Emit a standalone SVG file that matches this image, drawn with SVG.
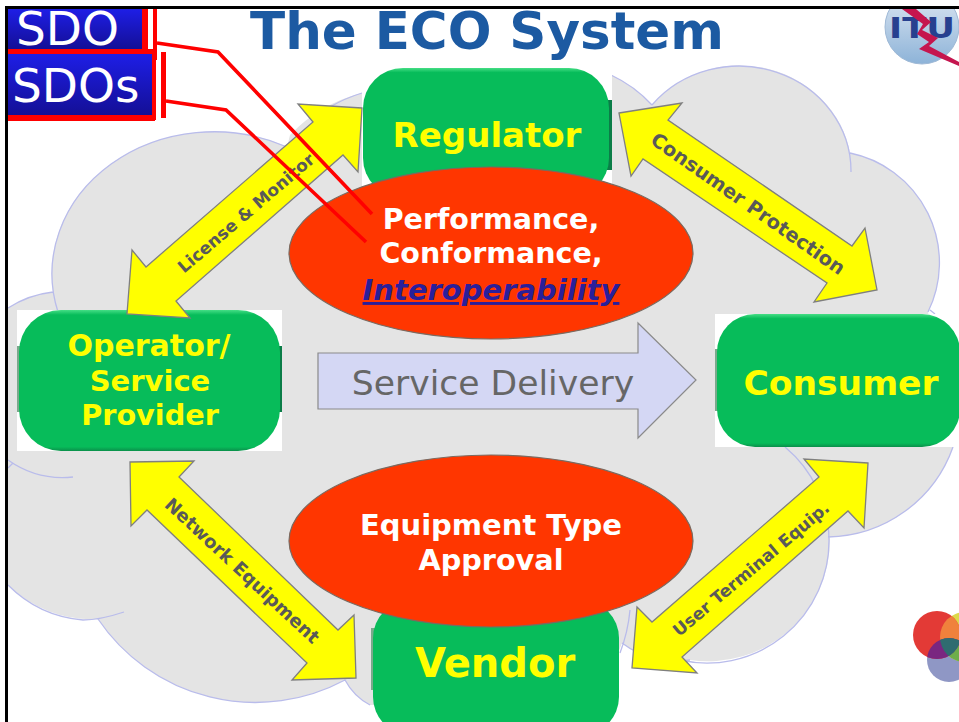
<svg xmlns="http://www.w3.org/2000/svg" width="959" height="722" viewBox="0 0 959 722">
<style>
text{font-family:"DejaVu Sans",Verdana,sans-serif}
.b{font-weight:700}
.m{text-anchor:middle}
.y{fill:#ffff00;font-weight:700;text-anchor:middle}
.w{fill:#fff;font-weight:700;text-anchor:middle}
.lab{fill:#595959;font-weight:700;text-anchor:middle}
.arrow{fill:#ffff00;stroke:#7f7f7f;stroke-width:1.3;stroke-linejoin:miter}
.ell{fill:#ff3600;stroke:#7a6a60;stroke-width:1.2}
.node{fill:url(#g)}
.edge{fill:#0b7d48}
.edgel{fill:#7aa98c}
.red{fill:#ff0000}
.redl{fill:none;stroke:#ff0000;stroke-width:3.6}
.sdo{fill:url(#bb)}
.sdot{fill:#fff;font-size:47px}
</style>
<defs>
<linearGradient id="g" x1="0" y1="0" x2="0" y2="1">
<stop offset="0" stop-color="#45de85"/><stop offset=".035" stop-color="#07bc5a"/><stop offset=".97" stop-color="#07bc5a"/><stop offset="1" stop-color="#0a8f4a"/>
</linearGradient>
<linearGradient id="bb" x1="0" y1="0" x2="0" y2="1">
<stop offset="0" stop-color="#1e1ee6"/><stop offset="1" stop-color="#140f96"/>
</linearGradient>
<linearGradient id="globe" x1="0" y1="0" x2="0" y2="1">
<stop offset="0" stop-color="#dfe8f3"/><stop offset="1" stop-color="#8db3d8"/>
</linearGradient>
<clipPath id="cr"><circle cx="937" cy="635" r="24"/></clipPath>
<clipPath id="cy"><circle cx="965" cy="637" r="25"/></clipPath>
<clipPath id="cb"><circle cx="949" cy="660" r="22"/></clipPath>
<clipPath id="top"><rect x="8" y="9" width="951" height="713"/></clipPath>
</defs>
<rect width="959" height="722" fill="#fff"/>
<g id="cloud">
<path fill="#e4e4e4" d="M8,308 A105,105 0 0 1 53,292 A162,142 0 0 1 287,147 L290,135 A150,150 0 0 1 362,93 L611,75 A130,130 0 0 1 652,105 A112,105 0 0 1 850,153 A112,112 0 0 1 928,312 L953,447 A135,135 0 0 1 830,537 A122,122 0 0 1 690,660 A90,90 0 0 1 622,643 L600,700 L370,705 A60,60 0 0 1 345,680 A190,190 0 0 1 98,619 A120,120 0 0 1 8,585 Z"/>
<path fill="none" stroke="#b9bceb" stroke-width="1.3" d="M8,308 A105,105 0 0 1 53,292 M58,312 A162,142 0 0 1 287,147 M330,107 A150,150 0 0 1 362,93 M611,75 A130,130 0 0 1 652,105 M652,105 A112,105 0 0 1 851,172 M850,153 A112,112 0 0 1 928,312 M930,310 L935,314 M953,447 A135,135 0 0 1 828,537 M785,447 A122,122 0 0 1 829,540 A122,122 0 0 1 680,660 M630,610 Q628,632 620,653 M690,660 A90,90 0 0 1 622,643 M370,705 A60,60 0 0 1 345,680 A190,190 0 0 1 98,619 M124,612 Q100,620 83,620 A120,120 0 0 1 8,585 M8,460 A95,95 0 0 0 73,477 M8,468 L13,463"/>
</g>
<g id="title"><text class="b" x="250" y="49" font-size="51.5" fill="#1c5aa2">The ECO System</text></g>
<g id="itu-logo" clip-path="url(#top)">
<circle cx="922" cy="27" r="37" fill="url(#globe)" stroke="#9fb9d6" stroke-width="1"/>
<text class="b" x="889" y="38" font-size="27.5" fill="#27408f" textLength="66" lengthAdjust="spacingAndGlyphs">ITU</text>
<polygon points="902,9 916,9 931,22 922,30 938,38 929,46 959,62 959,66 919,49 929,42 917,34 923,24" fill="#c5154e"/>
</g>
<g id="regulator">
<rect x="362" y="66" width="250" height="130" fill="#fff"/>
<rect x="600" y="100" width="12" height="70" class="edge"/>
<rect x="363" y="68" width="246" height="130" rx="40" class="node"/>
<text class="y" x="487" y="147" font-size="34">Regulator</text>
</g>
<g id="operator">
<rect x="17" y="310" width="265" height="141" fill="#fff"/>
<rect x="17" y="346" width="10" height="66" class="edgel"/>
<rect x="270" y="346" width="12" height="66" class="edge"/>
<rect x="19" y="310" width="261" height="141" rx="42" class="node"/>
<text class="y" x="149" y="356" font-size="30">Operator/</text>
<text class="y" x="150" y="391" font-size="29">Service</text>
<text class="y" x="150" y="425" font-size="28.7">Provider</text>
</g>
<g id="consumer">
<rect x="715" y="314" width="244" height="133" fill="#fff"/>
<rect x="715" y="349" width="10" height="62" class="edgel"/>
<rect x="717" y="314" width="243" height="133" rx="38" class="node"/>
<text class="y" x="841" y="395" font-size="34.5">Consumer</text>
</g>
<g id="vendor">
<rect x="371" y="628" width="10" height="62" class="edgel"/>
<rect x="373" y="600" width="246" height="135" rx="38" class="node"/>
<text class="y" x="495" y="677" font-size="40">Vendor</text>
</g>
<g id="service-delivery">
<polygon points="318,353 638,353 638,323 696,380 638,438 638,409 318,409" fill="#d4d7f4" stroke="#8a8a8a" stroke-width="1.2"/>
<text x="493" y="395" font-size="34.6" fill="#666" text-anchor="middle">Service Delivery</text>
</g>
<g id="performance">
<ellipse class="ell" cx="491" cy="253" rx="202" ry="86"/>
<text class="w" x="491" y="229" font-size="28.5">Performance,</text>
<text class="w" x="491" y="263" font-size="28.5">Conformance,</text>
<text class="b m" x="491" y="300" font-size="29" font-style="italic" fill="#2a1f9a" text-decoration="underline">Interoperability</text>
</g>
<g id="approval">
<ellipse class="ell" cx="491" cy="541" rx="202" ry="86"/>
<text class="w" x="491" y="535" font-size="29">Equipment Type</text>
<text class="w" x="491" y="570" font-size="28.7">Approval</text>
</g>
<g id="license-monitor">
<polygon class="arrow" points="362,108 298,104 313,122 146,267 132,250 127,314 190,318 176,301 343,155 358,172"/>
<text class="lab" font-size="17" transform="translate(246,213) rotate(-40.5) translate(0,6)">License &amp; Monitor</text>
</g>
<g id="consumer-protection">
<polygon class="arrow" points="619,113 682,103 668,120 852,246 865,228 877,290 814,302 827,283 643,159 631,176"/>
<text class="lab" font-size="19.5" transform="translate(748,204) rotate(35) translate(0,6.5)">Consumer Protection</text>
</g>
<g id="network-equipment">
<polygon class="arrow" points="130,462 194,461 179,477 338,630 354,615 356,678 292,680 307,663 147,510 131,526"/>
<text class="lab" font-size="18.2" transform="translate(242,571) rotate(43) translate(0,6)">Network Equipment</text>
</g>
<g id="user-terminal">
<polygon class="arrow" points="868,463 804,459 819,477 652,622 637,607 632,668 697,673 682,657 848,511 864,528"/>
<text class="lab" font-size="17" transform="translate(751,569) rotate(-40) translate(0,6)">User Terminal Equip.</text>
</g>
<g id="sdo">
<rect x="8" y="9" width="134" height="40" class="sdo"/>
<rect x="8" y="49" width="147" height="5" class="red"/>
<rect x="142" y="9" width="6" height="45" class="red"/>
<rect x="153" y="9" width="4" height="51" class="red"/>
<text class="sdot" x="16" y="45">SDO</text>
</g>
<g id="sdos">
<rect x="8" y="54" width="144" height="61" class="sdo"/>
<rect x="8" y="115" width="147" height="6" class="red"/>
<rect x="152" y="54" width="4" height="66" class="red"/>
<rect x="161" y="52" width="5" height="66" class="red"/>
<text class="sdot" x="12" y="102">SDOs</text>
</g>
<g id="connectors">
<polyline class="redl" points="157,43 218,52 372,214"/>
<polyline class="redl" points="166,101 226,110 366,242"/>
</g>
<g id="circles-logo">
<circle cx="949" cy="660" r="22" fill="#8f97c5"/>
<circle cx="965" cy="637" r="25" fill="#dcd94a"/>
<circle cx="937" cy="635" r="24" fill="#e33a36"/>
<circle cx="965" cy="637" r="25" fill="#f0813c" clip-path="url(#cr)"/>
<circle cx="949" cy="660" r="22" fill="#6fae4a" clip-path="url(#cy)"/>
<circle cx="949" cy="660" r="22" fill="#7a2680" clip-path="url(#cr)"/>
<g clip-path="url(#cr)"><circle cx="949" cy="660" r="22" fill="#2f6c70" clip-path="url(#cy)"/></g>
</g>
<g id="frame">
<rect x="5" y="6" width="954" height="3" fill="#000"/>
<rect x="5" y="6" width="3" height="716" fill="#000"/>
</g>
</svg>
